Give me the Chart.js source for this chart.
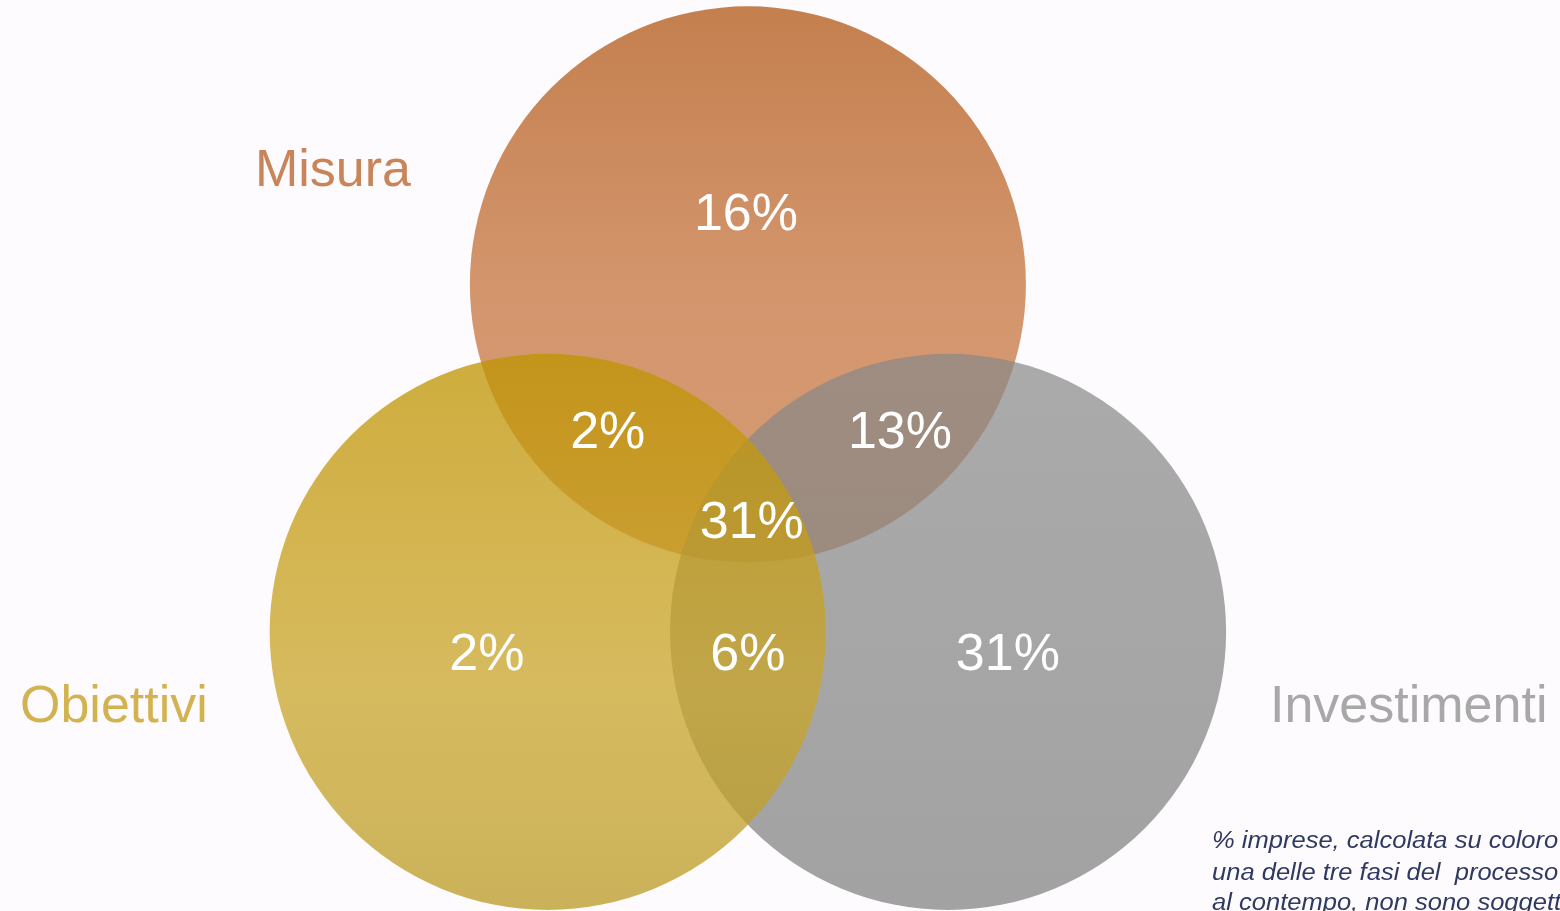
<!DOCTYPE html>
<html>
<head>
<meta charset="utf-8">
<script src="https://cdn.jsdelivr.net/npm/chart.js@4/dist/chart.umd.min.js"></script>
<style>
  html, body { margin: 0; padding: 0; background: #fdfbfd; }
  #wrap { position: relative; width: 1560px; height: 911px; overflow: hidden; }
</style>
</head>
<body>
<div id="wrap"><canvas id="venn"></canvas></div>
<script>
// insiemi (cerchi) in unità di raggio
const sets = ['Misura', 'Obiettivi', 'Investimenti'];
const setX = [0, -0.72, 0.72];
const setY = [1.25, 0, 0];
const setR = [1, 1, 1];

// regioni del diagramma e percentuali
const regions = ['Solo misura', 'Misura e obiettivi', 'Misura e investimenti', 'Tutte e tre', 'Solo obiettivi', 'Obiettivi e investimenti', 'Solo investimenti'];
const regionValues = [16, 2, 13, 31, 2, 6, 31];

// punti di ancoraggio delle etichette (unità di raggio)
const labelX = [-0.007, -0.504, 0.547, 0.014, -0.939, 0, 0.935];
const labelY = [1.446, 0.662, 0.662, 0.338, -0.137, -0.137, -0.137];

const footnote = [
  '% imprese, calcolata su coloro che',
  'una delle tre fasi del  processo',
  'al contempo, non sono soggette'
];

// gradienti verticali per ogni cerchio
const stops = [
  [[0, 'rgba(196,127,78,1)'], [0.5, 'rgba(211,149,108,1)'], [1, 'rgba(214,156,118,1)']],
  [[0, 'rgba(191,148,0,0.76)'], [0.6, 'rgba(202,166,44,0.76)'], [1, 'rgba(186,155,38,0.76)']],
  [[0, 'rgba(136,136,136,0.70)'], [1, 'rgba(124,124,124,0.70)']]
];
const flat = ['rgb(205,140,95)', 'rgba(195,155,25,0.76)', 'rgba(128,128,128,0.70)'];
const drawOrder = [2, 0, 1]; // arancio sotto, grigio in mezzo, giallo sopra

function pxRadius(chart, r) {
  const xs = chart.scales.x;
  if (!xs) return 0;
  const v = xs.getPixelForValue(r) - xs.getPixelForValue(0);
  return isFinite(v) ? v : 0;
}

function fillFor(i) {
  return (ctx) => {
    const chart = ctx.chart;
    const ys = chart.scales.y;
    if (!ys) return flat[i];
    const top = ys.getPixelForValue(setY[i] + setR[i]);
    const bottom = ys.getPixelForValue(setY[i] - setR[i]);
    if (!isFinite(top) || !isFinite(bottom) || top === bottom) return flat[i];
    const g = chart.ctx.createLinearGradient(0, top, 0, bottom);
    stops[i].forEach(s => g.addColorStop(s[0], s[1]));
    return g;
  };
}

const labelPlugin = {
  id: 'vennLabels',
  afterDatasetsDraw(chart) {
    const c = chart.ctx;
    const xs = chart.scales.x, ys = chart.scales.y;
    c.save();
    c.fillStyle = '#ffffff';
    c.font = '52px "Liberation Sans", Arial, sans-serif';
    c.textAlign = 'center';
    c.textBaseline = 'alphabetic';
    regionValues.forEach((v, i) => {
      c.fillText(v + '%', xs.getPixelForValue(labelX[i]), ys.getPixelForValue(labelY[i]));
    });

    c.textAlign = 'left';
    c.font = '52px "Liberation Sans", Arial, sans-serif';
    c.fillStyle = '#c8855a';
    c.fillText(sets[0], 255, 186);
    c.fillStyle = '#d3b250';
    c.fillText(sets[1], 20, 722);
    c.fillStyle = '#a8a8a8';
    c.fillText(sets[2], 1270, 722);

    // nota a piè di pagina, leggermente allargata come nell'originale
    c.font = 'italic 23px "Liberation Sans", Arial, sans-serif';
    c.fillStyle = '#2f3a62';
    c.translate(1212, 0);
    c.scale(1.11, 1);
    const base = [848, 880, 910];
    footnote.forEach((t, k) => c.fillText(t, 0, base[k]));
    c.restore();
  }
};

new Chart(document.getElementById('venn'), {
  type: 'scatter',
  data: {
    datasets: sets.map((name, i) => ({
      label: name,
      data: [{ x: setX[i], y: setY[i] }],
      order: drawOrder[i],
      showLine: false,
      pointBackgroundColor: fillFor(i),
      pointBorderWidth: 0,
      pointRadius: (ctx) => pxRadius(ctx.chart, setR[ctx.datasetIndex]),
      clip: false
    }))
  },
  options: {
    responsive: true,
    maintainAspectRatio: false,
    animation: false,
    events: [],
    layout: { padding: 0 },
    scales: {
      x: { type: 'linear', display: false, min: -2.69, max: 2.921 },
      y: { type: 'linear', display: false, min: -1.004, max: 2.273 }
    },
    plugins: {
      legend: { display: false },
      tooltip: { enabled: false }
    }
  },
  plugins: [labelPlugin]
});
</script>
</body>
</html>
